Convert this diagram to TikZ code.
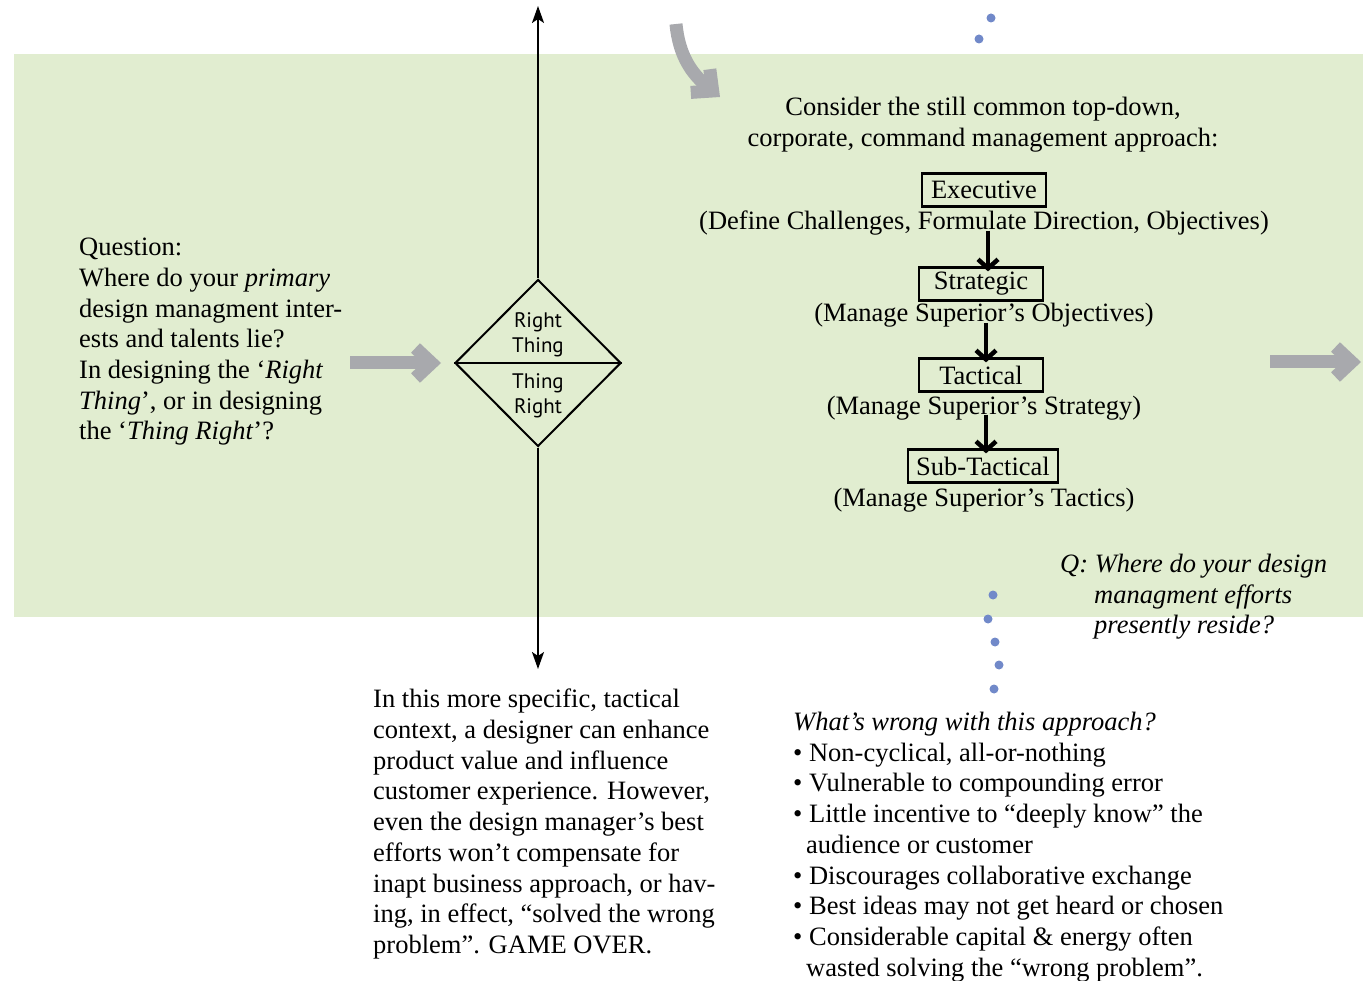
\documentclass[tikz,border=0pt]{standalone}
\usepackage{fontspec}
\setmainfont{Liberation Serif}
\newfontfamily\dmfont{PT Sans}
\usetikzlibrary{positioning}
\usetikzlibrary{arrows.meta,shapes.geometric}
\usepackage{xcolor}
\definecolor{bandgreen}{HTML}{E1EDD0}
\definecolor{flowgray}{HTML}{A8A9AD}
\definecolor{dotblue}{HTML}{7189C9}
\tikzset{
  body/.style={font=\fontsize{26.5}{30.7}\selectfont, inner sep=0pt, align=left, anchor=north west},
  level/.style={draw, line width=2.2pt, font=\fontsize{26.5}{30.7}\selectfont, inner xsep=8pt, inner ysep=0pt, minimum height=33pt, minimum width=124pt},
  levelnote/.style={font=\fontsize{26.5}{30.7}\selectfont, inner sep=0pt, anchor=base},
  flow/.style={draw=flowgray, line width=13pt, -{Straight Barb[length=16pt,width=30pt]}},
  down/.style={line width=4.5pt, -{Straight Barb[length=9pt,width=20pt]}},
  axis/.style={line width=2pt, -{Stealth[length=17pt,width=12pt,inset=4pt]}},
  bluedot/.style={circle, fill=dotblue, inner sep=0pt, minimum size=9pt},
}

\begin{document}
\begin{tikzpicture}[x=1pt,y=-1pt]
  \useasboundingbox (0,0) rectangle (1363,981);
  \fill[bandgreen] (14,54) rectangle (1363,617);

  % decision diamond and its axis
  \node[diamond, draw, line width=2pt, minimum width=166pt, minimum height=167pt, inner sep=0pt] (dm) at (538,363) {};
  \draw[line width=2pt] (dm.west) -- (dm.east);
  \node[font=\dmfont\fontsize{21}{25}\selectfont, align=center, inner sep=0pt] (rightthing) at (538,335) {Right\\Thing};
  \node[font=\dmfont\fontsize{21}{25}\selectfont, align=center, inner sep=0pt] (thingright) at (538,396) {Thing\\Right};
  \coordinate (up) at (538,6);
  \coordinate (down) at (538,669);
  \draw[axis] (dm.north) -- (up);
  \draw[axis] (dm.south) -- (down);

  % gray flow arrows
  \coordinate (inL) at (350,363);
  \coordinate (inR) at (441,363);
  \coordinate (outL) at (1270,362);
  \coordinate (outR) at (1361,362);
  \coordinate (curveA) at (676,24);
  \coordinate (curveB) at (720,97);
  \draw[flow] (inL) -- (inR);
  \draw[flow] (outL) -- (outR);
  \draw[flow] (curveA) .. controls (679,56) and (692,74) .. (curveB);

  % dots
  \foreach \px/\py [count=\i] in {991/18, 979/39, 993/595, 988/619, 995/642, 999/665, 994/689}
    \node[bluedot] (d\i) at (\px,\py) {};

  % left question
  \node[body] (question) at (79,238) {Question:\\Where do your \textit{primary}\\design managment inter-\\ests and talents lie?\\In designing the ‘\textit{Right}\\\textit{Thing}’, or in designing\\the ‘\textit{Thing Right}’?};

  % command hierarchy
  \node[body, align=center, anchor=north] (consider) at (983,97) {Consider the still common top-down,\\corporate, command management approach:};
  \node[level] (exec) at (984,190) {Executive};
  \node[levelnote] (execnote) at (984,230) {(Define Challenges, Formulate Direction, Objectives)};
  \node[level] (strat) at (981,284) {Strategic};
  \node[levelnote] (stratnote) at (984,322) {(Manage Superior’s Objectives)};
  \node[level] (tact) at (981,375) {Tactical};
  \node[levelnote] (tactnote) at (984,414) {(Manage Superior’s Strategy)};
  \node[level] (subtact) at (983,466) {Sub-Tactical};
  \node[levelnote] (subtactnote) at (984,506) {(Manage Superior’s Tactics)};
  \draw[down] ([xshift=4pt, yshift=5pt]execnote.south) -- ([xshift=7pt, yshift=-5pt]strat.north);
  \draw[down] ([xshift=2pt, yshift=5pt]stratnote.south) -- ([xshift=5pt, yshift=-5pt]tact.north);
  \draw[down] ([xshift=2pt, yshift=5pt]tactnote.south) -- ([xshift=3pt, yshift=-5pt]subtact.north);

  \node[body, font=\fontsize{26.5}{30.7}\selectfont\itshape] (where) at (1060,554) {Q: Where do your design\\\hspace*{34pt}managment efforts\\\hspace*{34pt}presently reside?};

  % lower texts
  \node[body] (tactical) at (373,689) {In this more specific, tactical\\context, a designer can enhance\\product value and influence\\customer experience. However,\\even the design manager’s best\\efforts won’t compensate for\\inapt business approach, or hav-\\ing, in effect, “solved the wrong\\problem”. GAME OVER.};
  \node[body] (wrong) at (793,712) {\textit{What’s wrong with this approach?}\\• Non-cyclical, all-or-nothing\\• Vulnerable to compounding error\\• Little incentive to “deeply know” the\\\hspace*{13pt}audience or customer\\• Discourages collaborative exchange\\• Best ideas may not get heard or chosen\\• Considerable capital \& energy often\\\hspace*{13pt}wasted solving the “wrong problem”.};
\end{tikzpicture}
\end{document}
